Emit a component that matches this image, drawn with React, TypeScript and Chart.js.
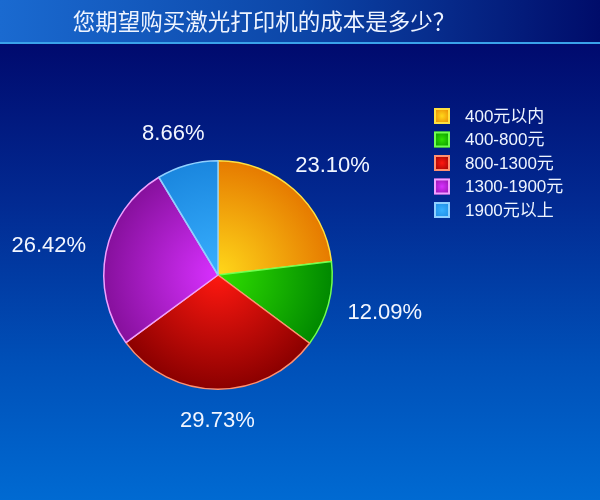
import React, { useEffect, useRef } from "react";
import { Chart, registerables } from "chart.js";

Chart.register(...registerables);

const titleText = "您期望购买激光打印机的成本是多少？";
const categories = ["400元以内", "400-800元", "800-1300元", "1300-1900元", "1900元以上"];
const shares = [23.1, 12.09, 29.73, 26.42, 8.66];
const innerColors = ["#ffd81a", "#30e000", "#ff1810", "#d830ff", "#38b0ff"];
const outerColors = ["#e67a00", "#008800", "#8a0000", "#86109c", "#1a86de"];
const borderColors = ["#ffe040", "#70ff50", "#ff9070", "#f0a0ff", "#90d0ff"];

const FONT_LATIN = '"Liberation Sans", Arial, "Noto Sans CJK SC", sans-serif';
const FONT_CJK = '"Noto Sans CJK SC", "Liberation Sans", sans-serif';

const backgroundPlugin = {
  id: "bgTitle",
  beforeDraw(chart: any) {
    const { ctx, width, height } = chart;
    ctx.save();
    const bg = ctx.createLinearGradient(0, 44, 0, height);
    bg.addColorStop(0, "#000a6e");
    bg.addColorStop(0.35, "#022a92");
    bg.addColorStop(0.7, "#0050b8");
    bg.addColorStop(1, "#006ad2");
    ctx.fillStyle = bg;
    ctx.fillRect(0, 0, width, height);
    const tb = ctx.createLinearGradient(0, 0, width, 0);
    tb.addColorStop(0, "#1a6ad0");
    tb.addColorStop(0.5, "#0c46a8");
    tb.addColorStop(1, "#000c6a");
    ctx.fillStyle = tb;
    ctx.fillRect(0, 0, width, 42);
    ctx.fillStyle = "#3aa2ea";
    ctx.fillRect(0, 42, width, 2);
    ctx.fillStyle = "#eef4ff";
    ctx.font = "22.5px " + FONT_CJK;
    ctx.textAlign = "center";
    ctx.textBaseline = "middle";
    ctx.fillText(titleText, 264, 21);
    ctx.restore();
  },
};

const labelsLegendPlugin = {
  id: "labelsLegend",
  afterDraw(chart: any) {
    const { ctx } = chart;
    const meta = chart.getDatasetMeta(0);
    const total = shares.reduce((a, b) => a + b, 0);
    ctx.save();
    ctx.fillStyle = "#f2f6ff";
    ctx.font = "22px " + FONT_LATIN;
    ctx.textAlign = "center";
    ctx.textBaseline = "middle";
    meta.data.forEach((arc: any, i: number) => {
      const p = arc.getProps(["x", "y", "startAngle", "endAngle", "outerRadius"], true);
      const mid = (p.startAngle + p.endAngle) / 2;
      const dx = Math.cos(mid);
      const dy = Math.sin(mid);
      const pct = ((shares[i] / total) * 100).toFixed(2) + "%";
      const hw = ctx.measureText(pct).width / 2;
      const hh = 11;
      const d = p.outerRadius + 21;
      ctx.fillText(pct, p.x + dx * d + dx * hw, p.y + dy * d + dy * hh);
    });
    // legend
    const lx = 434;
    const ly = 116;
    const step = 23.5;
    const sz = 16;
    categories.forEach((c, i) => {
      const cy = ly + i * step;
      const g = ctx.createRadialGradient(lx + sz / 2, cy, 0, lx + sz / 2, cy, sz * 0.7);
      g.addColorStop(0, innerColors[i]);
      g.addColorStop(1, outerColors[i]);
      ctx.fillStyle = g;
      ctx.fillRect(lx, cy - sz / 2, sz, sz);
      ctx.strokeStyle = borderColors[i];
      ctx.lineWidth = 2;
      ctx.strokeRect(lx + 1, cy - sz / 2 + 1, sz - 2, sz - 2);
      ctx.fillStyle = "#eef4ff";
      ctx.font = "17px " + FONT_LATIN;
      ctx.textAlign = "left";
      ctx.textBaseline = "middle";
      ctx.fillText(c, 465, cy + 1);
    });
    ctx.restore();
  },
};

export default function App() {
  const ref = useRef<HTMLCanvasElement | null>(null);
  useEffect(() => {
    if (!ref.current) return;
    const chart = new Chart(ref.current, {
      type: "pie",
      data: {
        labels: categories,
        datasets: [
          {
            data: shares,
            backgroundColor: (c: any) => {
              const i = c.dataIndex;
              const ch = c.chart;
              const a = ch.chartArea;
              if (!a) return outerColors[i];
              const cx = (a.left + a.right) / 2;
              const cy = (a.top + a.bottom) / 2;
              const r = Math.min(a.width, a.height) / 2;
              const g = ch.ctx.createRadialGradient(cx, cy, 0, cx, cy, r);
              g.addColorStop(0, innerColors[i]);
              g.addColorStop(1, outerColors[i]);
              return g;
            },
            borderColor: borderColors,
            borderWidth: 1.5,
          },
        ],
      },
      options: {
        animation: false,
        responsive: false,
        devicePixelRatio: 1,
        layout: { padding: { left: 103, right: 267, top: 160, bottom: 110 } },
        plugins: {
          legend: { display: false },
          tooltip: { enabled: false },
          title: { display: false },
        },
      },
      plugins: [backgroundPlugin, labelsLegendPlugin],
    });
    return () => chart.destroy();
  }, []);
  return (
    <div style={{ position: "fixed", left: 0, top: 0, width: 600, height: 500 }}>
      <canvas ref={ref} width={600} height={500} style={{ display: "block", width: 600, height: 500 }} />
    </div>
  );
}
